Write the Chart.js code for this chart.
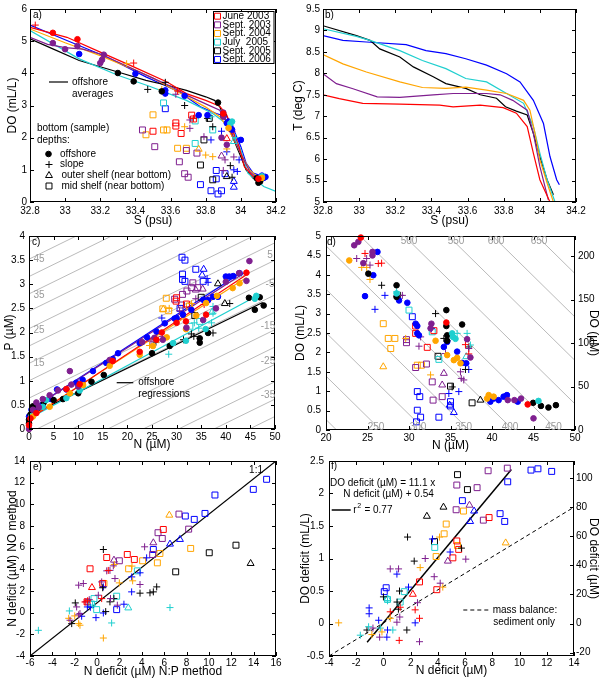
<!DOCTYPE html>
<html>
<head>
<meta charset="utf-8">
<script src="https://cdn.jsdelivr.net/npm/chart.js@4.4.1/dist/chart.umd.min.js"></script>
<style>
html, body { margin: 0; padding: 0; background: #fff; }
body { width: 603px; height: 682px; position: relative; overflow: hidden; }
canvas { position: absolute; }
</style>
</head>
<body>
<canvas id="pa" width="300" height="232" style="left:0px;top:0px"></canvas>
<canvas id="pb" width="313" height="232" style="left:290px;top:0px"></canvas>
<canvas id="pc" width="300" height="231" style="left:0px;top:225px"></canvas>
<canvas id="pd" width="313" height="231" style="left:290px;top:225px"></canvas>
<canvas id="pe" width="300" height="232" style="left:0px;top:450px"></canvas>
<canvas id="pf" width="313" height="232" style="left:290px;top:450px"></canvas>
<script>
Chart.defaults.font.family = "'Liberation Sans', Arial, sans-serif";
Chart.defaults.font.size = 10;
Chart.defaults.color = '#000';
Chart.defaults.animation = false;

// surveys (third value in every point row is the index in here)
var surveys = ['June 2003', 'Sept. 2003', 'Sept. 2004', 'July  2005', 'Sept. 2005', 'Sept. 2006'];
var surveyColors = ['#ff0000', '#7f1f8f', '#ffa500', '#1fcfcf', '#000000', '#0000ff'];

// tick labels
var sTicks = [32.8, 33, 33.2, 33.4, 33.6, 33.8, 34, 34.2];
var doTicksA = [0, 1, 2, 3, 4, 5, 6];
var tTicks = [5, 5.5, 6, 6.5, 7, 7.5, 8, 8.5, 9, 9.5];
var nTicksC = [0, 5, 10, 15, 20, 25, 30, 35, 40, 45, 50];
var pTicks = [0, 0.5, 1, 1.5, 2, 2.5, 3, 3.5, 4];
var nTicksD = [20, 25, 30, 35, 40, 45, 50];
var doTicksD = [0, 0.5, 1, 1.5, 2, 2.5, 3, 3.5, 4, 4.5, 5];
var doUmTicks = [0, 50, 100, 150, 200];
var ndefTicksE = [-6, -4, -2, 0, 2, 4, 6, 8, 10, 12, 14, 16];
var noTicksE = [-4, -2, 0, 2, 4, 6, 8, 10, 12, 14];
var ndefTicksF = [-4, -2, 0, 2, 4, 6, 8, 10, 12, 14];
var dodefTicksF = [-0.5, 0, 0.5, 1, 1.5, 2, 2.5];
var dodefUmTicks = [-20, 0, 20, 40, 60, 80, 100];
var umolPerMl = 44.66;

// a) offshore averaged DO vs S profiles
var avgJun03 = [[32.8,5.43],[33.01,5.12],[33.2,4.66],[33.39,4.2],[33.58,3.73],[33.69,3.37],[33.8,3.16],[33.88,2.98],[33.92,2.7],[33.96,2.13],[33.99,1.72],[34.02,1.1],[34.07,0.79],[34.11,0.69]];
var avgSep03 = [[32.8,5.12],[32.9,4.9],[33.0,4.8],[33.1,4.75],[33.2,4.6],[33.3,4.35],[33.4,4.1],[33.5,3.85],[33.6,3.6],[33.7,3.3],[33.8,3.05],[33.88,2.85],[33.92,2.5],[33.96,2.0],[34.0,1.5],[34.05,0.95],[34.1,0.7]];
var avgSep04 = [[32.8,5.38],[33.0,4.95],[33.2,4.55],[33.4,4.1],[33.5,3.85],[33.6,3.55],[33.7,3.25],[33.8,2.95],[33.88,2.65],[33.92,2.35],[33.96,1.95],[34.0,1.5],[34.05,1.0],[34.1,0.75]];
var avgJul05 = [[32.8,5.33],[33.08,4.45],[33.3,3.94],[33.48,3.6],[33.69,3.16],[33.84,2.75],[33.94,2.34],[34.0,1.62],[34.04,0.9],[34.13,0.48],[34.2,0.33]];
var avgSep05 = [[32.8,5.07],[32.93,4.76],[33.08,4.4],[33.3,4.04],[33.46,3.78],[33.58,3.63],[33.69,3.47],[33.8,3.27],[33.85,3.16],[33.88,2.96],[33.92,2.44],[33.96,1.93],[34.0,1.41],[34.03,1.0],[34.07,0.74],[34.11,0.64]];
var avgSep06 = [[32.8,5.5],[33.01,5.02],[33.24,4.5],[33.46,3.89],[33.65,3.42],[33.77,2.96],[33.86,2.75],[33.92,2.65],[33.96,2.24],[34.0,1.72],[34.03,1.21],[34.07,0.9],[34.13,0.79],[34.15,0.74]];

// a) bottom samples [S, DO, survey]
var aOffshore = [[32.93,5.26,0],[33.07,5.06,0],[33.9,2.75,0],[34.1,0.72,0],
  [32.93,4.94,1],[33.0,4.75,1],[33.07,4.85,1],[33.22,4.58,1],[33.21,4.42,1],[33.2,4.32,1],[33.9,2.78,1],[33.9,2.65,1],[33.92,1.78,1],[33.89,2.0,1],
  [33.93,2.3,2],[34.12,0.75,2],
  [33.94,2.44,3],[33.95,2.5,3],[34.12,0.8,3],
  [33.3,4.01,4],[33.39,3.75,4],[33.55,3.44,4],[33.87,3.09,4],[33.9,2.7,4],[34.11,0.64,4],[34.09,0.74,4],[34.1,0.6,4],
  [33.08,4.6,5],[33.4,3.99,5],[33.57,3.47,5],[33.57,3.37,5],[33.68,3.3,5],[33.76,2.7,5],[33.93,2.5,5],[33.94,2.35,5],[33.95,2.25,5],[33.92,2.45,5],[34.0,1.93,5],[34.12,0.82,5],[34.13,0.75,5],[34.14,0.78,5],[33.81,2.7,5]];
var aSlope = [[32.83,5.5,0],[33.39,4.32,0],[33.64,3.45,0],[33.73,2.6,0],[33.95,2.2,0],
  [33.71,2.29,1],[33.79,2.03,1],[33.91,1.31,1],[33.9,0.98,1],[33.96,1.4,1],[33.71,2.55,1],[33.63,3.35,1],
  [33.35,4.3,2],[33.8,1.46,2],[33.84,1.41,2],[33.68,2.34,2],[33.92,1.65,2],[33.55,3.5,2],
  [33.83,2.65,3],[33.97,2.0,3],
  [33.57,3.72,4],[33.47,3.5,4],[33.68,3.0,4],[33.84,2.34,4],[33.94,1.13,4],[33.95,0.77,4],[33.81,2.6,4],
  [33.83,1.93,5],[33.96,1.0,5],[33.98,0.95,5],[33.99,1.31,5],[33.92,1.56,5],[33.89,2.2,5]];
var aOuter = [[33.92,1.97,0],[33.89,1.43,1],[33.76,1.64,2],[33.96,1.88,3],[33.92,0.79,4],[33.96,0.64,5],[33.96,0.46,5]];
var aMid = [[33.5,2.2,0],[33.63,2.46,0],[33.63,2.36,0],[33.66,2.13,0],[33.72,2.7,0],[33.73,2.58,0],
  [33.44,2.24,1],[33.51,1.72,1],[33.65,1.25,1],[33.68,0.88,1],[33.7,0.77,1],[33.75,1.52,1],[33.69,1.6,1],
  [33.5,2.71,2],[33.46,2.09,2],[33.56,2.24,2],[33.58,2.24,2],[33.64,1.67,2],[33.69,1.67,2],
  [33.56,3.08,3],[33.74,2.52,3],[33.74,1.82,3],[33.84,2.24,3],
  [33.79,1.93,4],[33.77,1.15,4],[33.84,0.69,4],[33.82,2.6,4],
  [33.57,2.9,5],[33.77,0.54,5],[33.83,0.35,5],[33.87,0.25,5],[33.89,0.35,5],[33.86,0.98,5],[33.86,0.72,5],[33.91,0.88,5]];

// b) T vs S profiles
var tsJun03 = [[32.8,7.5],[32.89,7.41],[33.02,7.3],[33.225,7.28],[33.446,7.26],[33.52,7.22],[33.67,7.26],[33.797,7.2],[33.87,7.07],[33.93,6.76],[33.964,6.14],[34.0,5.52],[34.056,5.0]];
var tsSep03 = [[32.8,7.99],[32.874,7.76],[32.966,7.64],[33.1,7.45],[33.225,7.44],[33.41,7.5],[33.52,7.53],[33.705,7.53],[33.78,7.5],[33.85,7.37],[33.93,7.14],[33.964,6.6],[34.0,5.83],[34.047,5.05]];
var tsSep04 = [[32.8,8.44],[32.91,8.22],[33.04,8.03],[33.225,7.8],[33.35,7.67],[33.48,7.65],[33.59,7.68],[33.705,7.61],[33.816,7.53],[33.91,7.37],[33.945,7.14],[33.973,6.6],[34.0,5.98],[34.04,5.44],[34.075,5.0]];
var tsJul05 = [[32.8,9.04],[32.985,8.86],[33.06,8.77],[33.225,8.53],[33.35,8.3],[33.48,8.11],[33.59,7.88],[33.705,7.8],[33.816,7.53],[33.91,7.3],[33.964,6.76],[34.0,6.14],[34.04,5.52],[34.084,5.0]];
var tsSep05 = [[32.8,9.11],[32.985,8.88],[33.06,8.77],[33.114,8.57],[33.225,8.38],[33.3,8.15],[33.41,7.92],[33.48,7.76],[33.59,7.65],[33.67,7.5],[33.76,7.42],[33.81,7.22],[33.87,7.12],[33.93,7.03],[33.964,6.6],[34.0,6.06],[34.04,5.52],[34.075,5.17]];
var tsSep06 = [[32.8,8.88],[32.91,8.77],[33.04,8.73],[33.26,8.67],[33.37,8.53],[33.48,8.46],[33.59,8.34],[33.705,8.19],[33.816,7.99],[33.89,7.8],[33.964,7.37],[34.02,6.83],[34.056,6.06],[34.093,5.52],[34.108,5.4]];

// c) offshore P vs N regressions
var regJun03 = [[0,0.2],[44.5,3.22]];
var regSep03 = [[0,0.38],[43.8,3.24]];
var regSep04 = [[0,0.22],[44.2,3.14]];
var regJul05 = [[0,0.22],[46,2.74]];
var regSep05 = [[0,0.27],[47.5,2.62]];
var regSep06 = [[0,0.38],[42.8,3.22]];
// c) N-deficit guide lines: intercept (P at N = 0) and slope
var cGuideP0 = [3.88, 3.52, 3.16, 2.8, 2.44, 2.08, 1.72, 1.36, 1.0, 0.64, 0.28, -0.08, -0.44, -0.8, -1.16, -1.52, -1.88, -2.24, -2.6];
var cGuideSlope = 0.05;

// c) samples [N, P, survey]
var cOffshore = [[0,0.08,0],[0.3,0.22,0],[1.5,0.33,0],[7.6,0.83,0],[10.3,0.93,0],[17,1.41,0],[22.5,1.6,0],[25.9,1.85,0],[30,2.2,0],[31.9,2.23,0],[36,2.37,0],[44.2,3.24,0],[27,2.0,0],
  [0,0.0,1],[0.8,0.4,1],[1.5,0.55,1],[2.8,0.62,1],[4.2,0.7,1],[5.9,0.8,1],[8.3,1.2,1],[8.6,0.92,1],[10,0.88,1],[16.4,1.43,1],[25.5,1.89,1],[27.2,1.85,1],[32,2.1,1],[35.4,2.26,1],[38,2.5,1],[44.8,3.48,1],[44.2,3.07,1],[42.7,3.23,1],[40,3.05,1],[23,1.8,1],[2,0.45,1],
  [0.8,0.26,2],[4.2,0.46,2],[8.3,0.74,2],[11,0.91,2],[16.4,1.31,2],[22.5,1.54,2],[25.2,1.72,2],[31.9,2.07,2],[36,2.61,2],[38.2,2.76,2],[42.8,3.02,2],[41.4,2.92,2],[28,1.9,2],[34,2.35,2],
  [0.5,0.27,3],[2.8,0.46,3],[7.6,0.64,3],[10.3,0.8,3],[29.3,1.78,3],[31.9,1.83,3],[35.9,2.07,3],[45.9,2.7,3],[46.2,2.76,3],[3.5,0.6,3],
  [0,0.19,4],[0,0.12,4],[0.8,0.47,4],[3,0.55,4],[6.9,0.62,4],[10,0.74,4],[12.7,0.98,4],[15.2,1.12,4],[25,1.57,4],[28.6,1.72,4],[34.7,1.88,4],[34.7,1.79,4],[36.4,1.99,4],[44.7,2.72,4],[46.9,2.73,4],[45.9,2.47,4],[47.7,2.56,4],[0.3,0.3,4],[5,0.6,4],
  [0,0.26,5],[0.5,0.4,5],[1.5,0.43,5],[2.8,0.5,5],[4.5,0.62,5],[5.7,0.82,5],[7.6,0.82,5],[9.6,0.96,5],[10.9,1.02,5],[13,1.2,5],[15.7,1.37,5],[17,1.45,5],[18.1,1.57,5],[24,1.9,5],[25.9,2.02,5],[27.6,2.19,5],[29.6,2.29,5],[31.3,2.37,5],[33,2.47,5],[35.4,2.68,5],[37.4,2.74,5],[38.4,2.74,5],[40,3.16,5],[40.7,3.16,5],[41.5,3.17,5],[42.8,3.23,5],[36.4,2.67,5],[30,2.3,5],[22.5,1.78,5]];
var cSlope = [[30.2,2.28,0],[35.6,2.58,0],
  [27.1,1.92,1],[33.9,2.7,1],[30.6,2.45,1],[24.8,1.82,1],
  [28.5,2.5,2],[26.3,1.85,2],[24.5,1.73,2],[33,2.6,2],
  [34.5,2.09,3],[37.4,2.54,3],[37.4,2.4,3],[28.4,1.55,3],[33.6,2.2,3],[37.1,2.2,3],
  [40.8,2.6,4],[37.4,1.99,4],[33.5,1.92,4],[31.4,1.85,4],[33,1.97,4],[25.8,1.8,4],
  [36.4,3.04,5],[36.2,3.12,5],[27,2.3,5]];
var cOuter = [[27.3,2.48,2],[33.9,2.88,1],[35.3,2.9,1],[37.2,2.42,3],[38.4,3.01,4],[39.8,2.6,4],[35.5,3.31,5],[35.2,3.19,5]];
var cMid = [[30,2.72,0],[29.9,2.65,0],[32,2.59,0],
  [33.3,3.03,1],[33,2.93,1],[32.1,2.86,1],[34.3,2.93,1],[31.2,2.79,1],[29.6,2.69,1],[31,2.57,1],
  [27.9,2.71,2],[27.2,2.49,2],[28.4,2.45,2],[32.6,2.55,2],
  [32.7,2.13,3],[34.7,2.23,3],
  [35,2.73,4],[33.7,2.35,4],
  [31.1,3.56,5],[31.7,3.5,5],[31.2,3.21,5],[31.2,3.1,5],[31.7,3.06,5],[33.9,3.31,5],[35.4,3.06,5],[30.7,2.5,5]];

// d) guide lines: DO (uM) + slope * N = value
var dGuideValues = [200, 250, 300, 350, 400, 450, 500, 550, 600, 650, 700];
var dGuideSlope = 9.4;

// d) samples [N, DO mL/L, survey]
var dOffshore = [[24.2,4.96,0],[34.5,2.77,0],[44.3,0.66,0],
  [23.4,4.76,1],[23.9,4.85,1],[24.5,4.3,1],[25.6,4.59,1],[25.6,4.5,1],[32.6,2.62,1],[32.7,2.74,1],[37,2.34,1],[37.4,1.87,1],[42.7,0.77,1],[43.5,0.81,1],[45,0.3,1],[41.9,0.77,1],
  [22.8,4.37,2],[33.2,2.3,2],[34.6,1.93,2],[35.4,1.8,2],[35.8,1.86,2],[36.2,1.72,2],[39.4,0.81,2],[39.6,0.9,2],[40.2,0.86,2],
  [28.5,3.52,3],[35.2,2.49,3],[35.3,2.4,3],[35.6,2.35,3],[45.6,0.75,3],
  [25.1,4.03,4],[28.5,3.73,4],[28.5,3.43,4],[34.5,3.09,4],[34.5,2.68,4],[34.6,2.44,4],[34.6,2.3,4],[36.4,2.72,4],[44.96,0.7,4],[45.9,0.62,4],[46.8,0.58,4],[47.7,0.64,4],
  [26.2,4.59,5],[25.7,3.99,5],[24.7,3.45,5],[28.8,3.34,5],[29.8,3.28,5],[30.8,2.74,5],[31,2.68,5],[31,2.49,5],[31.2,2.44,5],[34.2,2.14,5],[34.6,2.27,5],[35.8,2.02,5],[36.4,1.73,5],[36.9,1.72,5],[39.8,0.73,5],[40.2,0.81,5],[40.8,0.77,5],[41.4,0.86,5],[41.8,0.9,5],[43.1,0.73,5]];
var dSlope = [[24.7,4.55,0],[26.3,4.29,0],[26.7,4.3,0],[36.8,2.2,0],[37.2,1.96,0],
  [23.7,4.42,1],[24.9,4.42,1],[25.3,4.25,1],[28.5,3.45,1],[29.2,3.47,1],[31.4,2.4,1],[31.2,2.16,1],[34.4,1.97,1],[36.2,1.5,1],[36.3,1.33,1],[36.6,1.29,1],[37.2,2.1,1],
  [24.3,4.19,2],[24.9,4.19,2],[25.3,3.88,2],[29.6,2.36,2],[32.6,1.42,2],
  [28.5,3.56,3],[35.8,2.49,3],[37,2.49,3],[37.4,2.19,3],
  [26.7,3.73,4],[28.95,3.47,4],[33.2,3.0,4],[34.2,2.36,4],[37.2,2.14,4],[36.8,1.56,4],[35.2,1.11,4],
  [27.1,3.47,5],[25.9,3.11,5],[34.6,2.3,5],[37.2,1.56,5],[34.8,0.94,5],[36,0.99,5],[32.7,2.62,5]];
var dOuter = [[26.9,1.63,2],[34,1.16,1],[34.2,1.46,1],[38.6,0.77,4],[36.9,1.89,3],[34.9,0.64,5],[35.4,0.45,5]];
var dMid = [[30.8,2.68,0],[30.8,2.49,0],[32.2,2.13,0],[33,2.56,0],
  [29.7,2.33,1],[29.7,2.25,1],[30.8,1.61,1],[32.1,1.7,1],[32.8,1.24,1],[32.9,0.77,1],[34,0.86,1],
  [26.9,2.74,2],[27.5,2.36,2],[28.3,2.36,2],[27.8,2.1,2],[31,1.67,2],[31.5,1.67,2],
  [30,3.09,3],[32.8,2.53,3],[33.6,1.82,3],
  [33.5,1.9,4],[35,1.13,4],[37.6,0.7,4],
  [30.4,2.92,5],[31,0.99,5],[31.3,0.86,5],[31,0.51,5],[30.9,0.21,5],[31.4,0.33,5],[33.6,0.33,5],[35,0.73,5],[35,0.62,5]];

// e) N deficit, N:P method vs NO method [x, y, survey]
var eOneToOne = [[-6,-4],[16,14]];
var eSlope = [[-1.08,0.99,0],[-0.85,1.1,0],[0.41,1.3,0],[1.0,3.9,0],
  [-1.65,2.54,1],[-1.23,2.69,1],[0.11,1.61,1],[0.41,2.84,1],[0.86,3.86,1],[1.15,3.9,1],[1.45,4.32,1],[1.6,3.15,1],[4.25,6.08,1],[3.84,2.6,1],[1.81,0.69,1],[-1.83,0.53,1],[-1.53,-0.08,1],[-1.65,-0.2,1],[-2.42,-0.7,1],[-1.0,1.0,1],[-0.7,1.2,1],[1.2,1.3,1],
  [-1.65,-1.01,2],[-1.53,-1.16,2],[-2.54,-0.52,2],[0.56,-2.34,2],[1.54,4.45,2],[1.99,2.75,2],[3.18,2.94,2],[3.12,4.3,2],[-2.0,-0.3,2],
  [-5.25,-1.63,3],[-2.48,0.16,3],[6.52,0.47,3],[1.3,-0.95,3],[-0.4,0.7,3],
  [0.56,5.83,4],[-1.95,0.9,4],[0.77,0.1,4],[-2.27,-1.01,4],[1.15,1.0,4],[1.5,1.3,4],[4.73,1.83,4],[3.84,1.8,4],[5.03,1.92,4],[5.33,2.38,4],[0.5,2.3,4],
  [3.09,1.92,5],[3.84,3.68,5],[4.43,5.06,5],[2.4,0.78,5],[0.56,2.38,5],[-1.38,-0.33,5],[-0.6,0.5,5],[0.56,-0.03,5],[-0.1,-0.46,5],[-0.87,0.53,5],[3.1,3.3,5]];
var eOuter = [[-0.46,2.32,0],[5.03,6.45,1],[1.51,4.85,1],[6.46,9.0,2],[2.79,0.44,3],[13.73,4.54,4],[6.52,6.33,5],[7.41,6.76,5]];
var eMid = [[-0.63,4.05,0],[0.86,5.09,0],[2.7,5.37,0],[5.92,7.68,0],[3.33,4.91,0],[-0.9,1.0,0],[0.5,2.7,0],
  [7.32,9.1,1],[8.19,7.71,1],[5.45,7.38,1],[5.83,6.85,1],[4.97,5.37,1],[1.99,4.79,1],
  [8.37,5.93,2],[5.62,5.46,2],[5.39,4.6,2],[2.82,4.05,2],[4.07,4.79,2],[0.62,2.69,2],
  [-0.28,1.3,3],[-0.04,0.28,3],[1.75,1.52,3],[3.6,3.86,3],[-0.5,0.8,3],
  [10.03,5.53,4],[12.42,6.23,4],[7.03,3.77,4],
  [15.16,12.31,5],[13.97,11.38,5],[10.54,10.86,5],[9.65,9.16,5],[8.69,8.61,5],[7.89,8.92,5],[5.03,5.83,5],[1.75,0.28,5]];

// f) DO deficit vs N deficit [x, y, survey]
var fFit = [[-1.2,-0.29],[9.4,2.37]];
var fMassBalance = [[-4,-0.5],[14,1.79]];
var fSlope = [[2.65,0.08,0],[1.23,0.25,0],[1.16,-0.26,0],[2.33,0.21,0],[0.5,0.18,0],
  [0.5,0.84,1],[1.11,0.84,1],[3.07,1.0,1],[3.73,0.72,1],[4.17,0.62,1],[6.05,0.99,1],[0.99,0.02,1],[2.5,0.32,1],[2.65,-0.28,1],[-0.28,-0.21,1],[-0.77,-0.07,1],[1.2,0.1,1],
  [-3.29,0.01,2],[-0.85,-0.17,2],[2.7,0.86,2],[4.12,1.33,2],[4.36,0.56,2],[-0.11,-0.13,2],[0.5,0.08,2],
  [-1.7,-0.18,3],[-1.09,-0.05,3],[-0.23,-0.07,3],[0.69,-0.1,3],[0.3,0.35,3],
  [1.77,1.33,4],[2.26,0.96,4],[1.18,0.5,4],[1.0,0.33,4],[0.0,0.41,4],[1.1,0.22,4],[1.72,-0.1,4],[5.73,1.16,4],[-1.21,-0.1,4],
  [0.99,0.76,5],[1.84,0.56,5],[-1.05,0.24,5],[-1.05,0.15,5],[-0.35,0.05,5],[0.3,-0.1,5],[2.33,0.01,5],[0.25,-0.21,5],[3.6,1.3,5],[4.9,1.1,5]];
var fOuter = [[2.16,0.45,0],[6.32,1.82,1],[4.73,0.96,1],[8.98,1.24,2],[0.3,0.38,3],[3.19,1.65,4],[4.41,1.79,4],[6.37,1.57,5],[6.66,1.73,5]];
var fMid = [[7.76,1.63,0],[5.39,1.27,0],[5.53,1.14,0],[5.1,1.01,0],[3.92,0.52,0],[2.65,0.64,0],
  [9.1,2.39,1],[7.69,2.35,1],[6.88,2.09,1],[5.39,2.13,1],[5.34,1.75,1],[7.34,1.59,1],
  [4.61,1.53,2],[4.46,1.38,2],[5.88,1.73,2],[5.44,1.2,2],[3.87,1.03,2],
  [3.77,1.17,3],[1.53,0.49,3],[1.23,0.33,3],[0.3,0.37,3],
  [5.44,2.29,4],[6.17,2.06,4],[3.75,1.26,4],
  [10.84,2.36,5],[11.35,2.38,5],[12.36,2.34,5],[9.13,2.18,5],[8.57,1.69,5],[8.91,1.57,5],[5.8,1.89,5],[0.2,0.55,5],[0.06,0.49,5]];

// ---------- helpers ----------
var markKinds = {
  off:   { style: 'circle',   r: 2.8, filled: true },
  slope: { style: 'cross',    r: 3.5 },
  outer: { style: 'triangle', r: 4 },
  mid:   { style: 'rect',     r: 4.2 }
};

function markSets(list, kind) {
  var m = markKinds[kind];
  var sets = [];
  surveys.forEach(function (name, k) {
    var pts = list.filter(function (p) { return p[2] === k; })
                  .map(function (p) { return { x: p[0], y: p[1] }; });
    if (!pts.length) return;
    sets.push({
      data: pts, showLine: false,
      pointStyle: m.style, pointRadius: m.r, pointBorderWidth: 1,
      pointBorderColor: surveyColors[k],
      pointBackgroundColor: m.filled ? surveyColors[k] : 'rgba(0,0,0,0)',
      borderColor: surveyColors[k], clip: false, order: 0
    });
  });
  return sets;
}

function lineSet(arr, color, width, dash, order) {
  return {
    data: arr.map(function (p) { return { x: p[0], y: p[1] }; }),
    showLine: true, pointRadius: 0, borderColor: color, borderWidth: width || 1.2,
    borderDash: dash || [], fill: false, tension: 0, clip: 0,
    order: order === undefined ? 1 : order
  };
}

function axis(o) {
  return {
    type: 'linear', position: o.pos, min: o.min, max: o.max,
    grid: { display: false, drawTicks: false },
    border: { display: false },
    ticks: { autoSkip: false, maxRotation: 0, padding: o.tp === undefined ? 3 : o.tp,
             font: { size: 10 }, callback: function (v) { return String(v); } },
    title: { display: true, text: o.title, font: { size: 12 }, padding: o.titlePad },
    afterBuildTicks: function (s) { s.ticks = o.ticks.map(function (v) { return { value: v }; }); },
    afterFit: function (s) { if (s.isHorizontal()) s.height = o.size; else s.width = o.size; }
  };
}

// box round the axes with inward ticks, as in the original figure
var frame = {
  id: 'frame',
  afterDraw: function (chart) {
    var ctx = chart.ctx, a = chart.chartArea, sc = chart.scales, tl = 4;
    ctx.save();
    ctx.strokeStyle = '#000';
    ctx.lineWidth = 1;
    ctx.beginPath();
    sc.x.ticks.forEach(function (t) {
      var p = Math.round(sc.x.getPixelForValue(t.value)) + 0.5;
      ctx.moveTo(p, a.bottom); ctx.lineTo(p, a.bottom - tl);
      ctx.moveTo(p, a.top); ctx.lineTo(p, a.top + tl);
    });
    sc.y.ticks.forEach(function (t) {
      var p = Math.round(sc.y.getPixelForValue(t.value)) + 0.5;
      ctx.moveTo(a.left, p); ctx.lineTo(a.left + tl, p);
      if (!sc.y1) { ctx.moveTo(a.right, p); ctx.lineTo(a.right - tl, p); }
    });
    if (sc.y1) sc.y1.ticks.forEach(function (t) {
      var p = Math.round(sc.y1.getPixelForValue(t.value)) + 0.5;
      ctx.moveTo(a.right, p); ctx.lineTo(a.right - tl, p);
    });
    ctx.stroke();
    ctx.strokeRect(a.left + 0.5, a.top + 0.5, a.right - a.left - 1, a.bottom - a.top - 1);
    ctx.restore();
  }
};

function drawMark(ctx, kind, x, y, color) {
  var m = markKinds[kind];
  ctx.save();
  ctx.strokeStyle = color;
  ctx.fillStyle = m.filled ? color : 'rgba(0,0,0,0)';
  ctx.lineWidth = 1;
  Chart.helpers.drawPoint(ctx, { pointStyle: m.style, radius: m.r, borderWidth: 1, rotation: 0 }, x, y);
  ctx.restore();
}

// texts, legend keys and boxes placed on top of a chart
function notes(items) {
  return {
    id: 'notes',
    afterDraw: function (chart) {
      var ctx = chart.ctx;
      ctx.save();
      items.forEach(function (it) {
        var col = it.color || '#000';
        if (it.box) {
          ctx.fillStyle = '#fff'; ctx.strokeStyle = '#000'; ctx.lineWidth = 1;
          ctx.fillRect(it.box[0], it.box[1], it.box[2], it.box[3]);
          ctx.strokeRect(it.box[0], it.box[1], it.box[2], it.box[3]);
        } else if (it.line) {
          ctx.strokeStyle = col; ctx.lineWidth = it.w || 1.2;
          ctx.setLineDash(it.dash || []);
          ctx.beginPath(); ctx.moveTo(it.line[0], it.line[1]); ctx.lineTo(it.line[2], it.line[3]); ctx.stroke();
          ctx.setLineDash([]);
        } else if (it.mark) {
          drawMark(ctx, it.mark, it.x, it.y, col);
        } else if (it.sq) {
          // "r" with squared exponent
          ctx.fillStyle = col; ctx.textBaseline = 'middle'; ctx.textAlign = 'left';
          ctx.font = "10px 'Liberation Sans', Arial, sans-serif";
          ctx.fillText(it.sq[0], it.x, it.y);
          var w = ctx.measureText(it.sq[0]).width;
          ctx.font = "7px 'Liberation Sans', Arial, sans-serif";
          ctx.fillText('2', it.x + w + 0.5, it.y - 4);
          ctx.font = "10px 'Liberation Sans', Arial, sans-serif";
          ctx.fillText(it.sq[1], it.x + w + 5, it.y);
        } else {
          ctx.fillStyle = col;
          ctx.font = (it.size || 10) + "px 'Liberation Sans', Arial, sans-serif";
          ctx.textAlign = it.align || 'left';
          ctx.textBaseline = 'middle';
          ctx.fillText(it.text, it.x, it.y);
        }
      });
      ctx.restore();
    }
  };
}

function makeChart(id, datasets, scales, padding, items) {
  return new Chart(document.getElementById(id), {
    type: 'scatter',
    data: { datasets: datasets },
    options: {
      responsive: false, animation: false, events: [],
      layout: { padding: padding },
      plugins: { legend: { display: false }, tooltip: { enabled: false } },
      scales: scales
    },
    plugins: [frame, notes(items)]
  });
}

// ---------- a) ----------
var aAvg = [avgJun03, avgSep03, avgSep04, avgJul05, avgSep05, avgSep06];
var aItems = [{ text: 'a)', x: 33, y: 15 },
  { box: [213.5, 11.5, 60.5, 52] }];
surveys.forEach(function (name, k) {
  var yy = 16.2 + k * 8.65;
  aItems.push({ mark: 'mid', x: 217.5, y: yy, color: surveyColors[k] });
  aItems.push({ text: name, x: 222.5, y: yy });
});
aItems = aItems.concat([
  { line: [49, 82, 68, 82] },
  { text: 'offshore', x: 72, y: 82 }, { text: 'averages', x: 72, y: 94 },
  { text: 'bottom (sample)', x: 37, y: 128 }, { text: 'depths:', x: 37, y: 140 },
  { mark: 'off', x: 48.5, y: 154 }, { text: 'offshore', x: 60, y: 154 },
  { mark: 'slope', x: 49, y: 164.5 }, { text: 'slope', x: 60, y: 164.5 },
  { mark: 'outer', x: 49, y: 175.5 }, { text: 'outer shelf (near bottom)', x: 61.5, y: 175.5 },
  { mark: 'mid', x: 49, y: 186 }, { text: 'mid shelf (near bottom)', x: 61.5, y: 186 }
]);
makeChart('pa',
  [].concat(markSets(aOffshore, 'off'), markSets(aSlope, 'slope'), markSets(aOuter, 'outer'), markSets(aMid, 'mid'),
    aAvg.map(function (arr, k) { return lineSet(arr, surveyColors[k], 1.2); })),
  {
    x: axis({ pos: 'bottom', min: 32.8, max: 34.2, ticks: sTicks, title: 'S (psu)', size: 30, titlePad: { top: 0, bottom: 3.8 } }),
    y: axis({ pos: 'left', min: 0, max: 6, ticks: doTicksA, title: 'DO (mL/L)', size: 30, titlePad: { top: 5.3, bottom: 0 } })
  },
  { left: 0, right: 24, top: 8, bottom: 0 }, aItems);

// ---------- b) ----------
var bLines = [tsJun03, tsSep03, tsSep04, tsJul05, tsSep05, tsSep06];
makeChart('pb',
  bLines.map(function (arr, k) { return lineSet(arr, surveyColors[k], 1.2); }),
  {
    x: axis({ pos: 'bottom', min: 32.8, max: 34.2, ticks: sTicks, title: 'S (psu)', size: 30, titlePad: { top: 0, bottom: 3.8 } }),
    y: axis({ pos: 'left', min: 5, max: 9.5, ticks: tTicks, title: 'T (deg C)', size: 33, titlePad: { top: 1.8, bottom: 0 } })
  },
  { left: 0, right: 27, top: 8, bottom: 0 },
  [{ text: 'b)', x: 35, y: 15 }]);

// ---------- c) ----------
var cRegs = [regJun03, regSep03, regSep04, regJul05, regSep05, regSep06];
var cGuides = cGuideP0.map(function (p0) {
  return lineSet([[-5, p0 - 5 * cGuideSlope], [55, p0 + 55 * cGuideSlope]], '#a8a8a8', 0.8, null, 3);
});
var gray = '#9a9a9a';
makeChart('pc',
  [].concat(markSets(cOffshore, 'off'), markSets(cSlope, 'slope'), markSets(cOuter, 'outer'), markSets(cMid, 'mid'),
    cRegs.map(function (arr, k) { return lineSet(arr, surveyColors[k], 1.2); }), cGuides),
  {
    x: axis({ pos: 'bottom', min: 0, max: 50, ticks: nTicksC, title: 'N (µM)', size: 27, tp: 2, titlePad: { top: 0, bottom: 3.8 } }),
    y: axis({ pos: 'left', min: 0, max: 4, ticks: pTicks, title: 'P (µM)', size: 29, tp: 4, titlePad: { top: 2.8, bottom: 0 } })
  },
  { left: 0, right: 25, top: 11, bottom: 0 },
  [{ text: 'c)', x: 32, y: 17.7 },
   { text: '45', x: 39, y: 34, align: 'center', color: gray },
   { text: '35', x: 39, y: 70.7, align: 'center', color: gray },
   { text: '25', x: 39, y: 105.7, align: 'center', color: gray },
   { text: '15', x: 39, y: 138.3, align: 'center', color: gray },
   { text: '5', x: 270, y: 30, align: 'center', color: gray },
   { text: '-5', x: 270, y: 59, align: 'center', color: gray },
   { text: '-15', x: 268, y: 101.7, align: 'center', color: gray },
   { text: '-25', x: 268, y: 136.7, align: 'center', color: gray },
   { text: '-35', x: 268, y: 170, align: 'center', color: gray },
   { line: [116.7, 157.7, 133.3, 157.7] },
   { text: 'offshore', x: 138.3, y: 157.7 }, { text: 'regressions', x: 138.3, y: 169 }]);

// ---------- d) ----------
var dGuides = dGuideValues.map(function (v) {
  return lineSet([[15, (v - dGuideSlope * 15) / umolPerMl], [55, (v - dGuideSlope * 55) / umolPerMl]], '#a8a8a8', 0.8, null, 3);
});
makeChart('pd',
  [].concat(markSets(dOffshore, 'off'), markSets(dSlope, 'slope'), markSets(dOuter, 'outer'), markSets(dMid, 'mid'), dGuides),
  {
    x: axis({ pos: 'bottom', min: 20, max: 50, ticks: nTicksD, title: 'N (µM)', size: 26, tp: 2, titlePad: { top: 0, bottom: 3 } }),
    y: axis({ pos: 'left', min: 0, max: 5, ticks: doTicksD, title: 'DO (mL/L)', size: 36, tp: 5, titlePad: { top: 3, bottom: 0 } }),
    y1: axis({ pos: 'right', min: 0, max: 5 * umolPerMl, ticks: doUmTicks, title: 'DO (µM)', size: 28, tp: 3, titlePad: { top: 2.5, bottom: 0 } })
  },
  { left: 0, right: 0, top: 11, bottom: 0 },
  [{ text: 'd)', x: 37, y: 17.7 },
   { text: '500', x: 119, y: 16.7, align: 'center', color: gray },
   { text: '550', x: 166, y: 16.7, align: 'center', color: gray },
   { text: '600', x: 206, y: 16.7, align: 'center', color: gray },
   { text: '650', x: 249, y: 16.7, align: 'center', color: gray },
   { text: '250', x: 86, y: 202.3, align: 'center', color: gray },
   { text: '300', x: 128, y: 202.3, align: 'center', color: gray },
   { text: '350', x: 173.6, y: 202.3, align: 'center', color: gray },
   { text: '400', x: 220, y: 202.3, align: 'center', color: gray },
   { text: '450', x: 263.5, y: 202.3, align: 'center', color: gray }]);

// ---------- e) ----------
makeChart('pe',
  [].concat(markSets(eSlope, 'slope'), markSets(eOuter, 'outer'), markSets(eMid, 'mid'), [lineSet(eOneToOne, '#000', 1.2)]),
  {
    x: axis({ pos: 'bottom', min: -6, max: 16, ticks: ndefTicksE, title: 'N deficit (µM) N:P method', size: 26, tp: 1, titlePad: { top: 0, bottom: 3.1 } }),
    y: axis({ pos: 'left', min: -4, max: 14, ticks: noTicksE, title: 'N deficit (µM) NO method', size: 30, tp: 5, titlePad: { top: 5.5, bottom: 0 } })
  },
  { left: 0, right: 24, top: 11, bottom: 0 },
  [{ text: 'e)', x: 33, y: 17.3 }, { text: '1:1', x: 263, y: 20, align: 'right' }]);

// ---------- f) ----------
makeChart('pf',
  [].concat(markSets(fSlope, 'slope'), markSets(fOuter, 'outer'), markSets(fMid, 'mid'),
    [lineSet(fFit, '#000', 1.5), lineSet(fMassBalance, '#000', 1, [4, 3])]),
  {
    x: axis({ pos: 'bottom', min: -4, max: 14, ticks: ndefTicksF, title: 'N deficit (µM)', size: 26, tp: 1, titlePad: { top: 0, bottom: 4 } }),
    y: axis({ pos: 'left', min: -0.5, max: 2.5, ticks: dodefTicksF, title: 'DO deficit (mL/L)', size: 39, tp: 5, titlePad: { top: 8.8, bottom: 0 } }),
    y1: axis({ pos: 'right', min: -0.5 * umolPerMl, max: 2.5 * umolPerMl, ticks: dodefUmTicks, title: 'DO deficit (µM)', size: 29, tp: 2, titlePad: { top: 2.5, bottom: 0 } })
  },
  { left: 0, right: 0, top: 11, bottom: 0 },
  [{ text: 'f)', x: 41, y: 16.7 },
   { text: 'DO deficit (µM) = 11.1 x', x: 40, y: 33.3 },
   { text: 'N deficit (µM) + 0.54', x: 53.3, y: 44 },
   { line: [41.7, 60, 60.7, 60], w: 1.5 },
   { sq: ['r', ' = 0.77'], x: 63.3, y: 60 },
   { line: [173.3, 160, 198.3, 160], w: 1, dash: [4, 3] },
   { text: 'mass balance:', x: 202.7, y: 160 },
   { text: 'sediment only', x: 203.3, y: 172.3 }]);
</script>
</body>
</html>
